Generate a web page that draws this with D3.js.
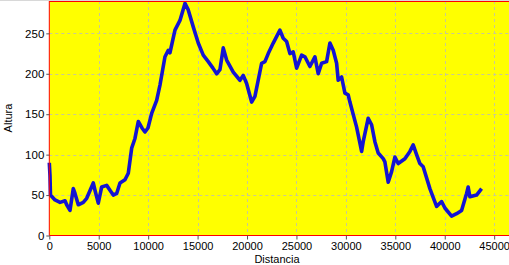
<!DOCTYPE html>
<html><head><meta charset="utf-8">
<script src="https://cdn.jsdelivr.net/npm/d3@7"></script>
<style>html,body{margin:0;padding:0;background:#fff;overflow:hidden}</style>
</head><body>
<script>
const distancia = [0,70,120,576,1082,1588,1760,2093,2427,2599,2932,3438,3782,4449,4621,4955,5299,5804,6138,6472,6815,7149,7655,7989,8332,8666,9000,9374,9677,9981,10355,10860,11194,11700,12033,12205,12711,13216,13722,14056,14562,15067,15573,16079,16553,16928,17261,17595,17939,18606,19284,19617,19961,20467,20801,21478,21812,22146,22651,23329,23662,24006,24340,24674,25017,25523,25857,26362,26868,27202,27546,28051,28385,28719,29062,29224,29568,29902,30236,30408,31085,31591,31752,32258,32602,32935,33269,33775,33947,34281,34625,34958,35292,35970,36475,36809,37153,37486,37820,38497,38801,39175,39681,40015,40693,41198,41704,42209,42371,42543,43220,43726];
const altura = [90,74,50,44,41,43,38,31,58,52,38,41,46,65,56,40,60,62,56,50,52,65,69,77,108,120,141,133,128,133,151,167,186,221,229,226,254,266,287,279,258,238,223,215,207,200,205,232,217,202,192,198,188,165,172,213,215,225,238,254,244,240,225,227,207,223,221,209,221,200,213,215,238,229,213,192,196,176,174,165,134,104,116,145,137,116,102,95,91,66,79,97,89,95,104,112,100,89,85,58,48,36,42,34,24,27,31,52,60,48,50,58];
const xTicks = [0,5000,10000,15000,20000,25000,30000,35000,40000,45000];
const yTicks = [0,50,100,150,200,250];

const W = 509, H = 265;
const L = 49.3, T = 1, B = 235.5, R = 509;
const svg = d3.select("body").append("svg").attr("width", W).attr("height", H)
  .style("font-family", "'Liberation Sans', Arial, sans-serif");

const x = d3.scaleLinear().domain([0, 46500]).range([L, R]);
const y = d3.scaleLinear().domain([0, 290]).range([B, T]);

svg.append("line").attr("x1",0).attr("x2",W).attr("y1",0.5).attr("y2",0.5).attr("stroke","#d8d8d8");
svg.append("rect").attr("x", L).attr("y", T).attr("width", R - L).attr("height", B - T).attr("fill", "#ffff00");

// grid
svg.append("g").selectAll("line").data(xTicks.filter(d => d > 0)).join("line")
  .attr("x1", d => Math.round(x(d)) + 0.5).attr("x2", d => Math.round(x(d)) + 0.5)
  .attr("y1", T).attr("y2", B).attr("stroke", "#c8c896").attr("stroke-dasharray", "3,3");
svg.append("g").selectAll("line").data(yTicks.filter(d => d > 0)).join("line")
  .attr("y1", d => Math.round(y(d)) + 0.5).attr("y2", d => Math.round(y(d)) + 0.5)
  .attr("x1", L).attr("x2", R).attr("stroke", "#c8c896").attr("stroke-dasharray", "3,3");

// line
const pts = distancia.map((d, i) => [d, altura[i]]);
svg.append("path").datum(pts)
  .attr("fill", "none").attr("stroke", "#1414d2").attr("stroke-width", 3.6)
  .attr("stroke-linejoin", "round")
  .attr("d", d3.line().x(d => x(d[0])).y(d => y(d[1])));

// axes borders
svg.append("line").attr("x1", L).attr("x2", L).attr("y1", T).attr("y2", B).attr("stroke", "#ff0000");
svg.append("line").attr("x1", L).attr("x2", R).attr("y1", B).attr("y2", B).attr("stroke", "#ff0000");
svg.append("line").attr("x1", L).attr("x2", R).attr("y1", T + 0.5).attr("y2", T + 0.5).attr("stroke", "#ff0000");

// axes
const xAxis = d3.axisBottom(x).tickValues(xTicks).tickSize(4).tickPadding(3).tickFormat(d3.format("d"));
const gx = svg.append("g").attr("transform", `translate(0,${B})`).call(xAxis);
gx.select(".domain").remove();
gx.selectAll("line").attr("stroke", "#555");
gx.selectAll("text").attr("font-size", 11).attr("fill", "#000").attr("font-family", "'Liberation Sans', Arial, sans-serif");

const yAxis = d3.axisLeft(y).tickValues(yTicks).tickSize(3).tickPadding(2);
const gy = svg.append("g").attr("transform", `translate(${L},0)`).call(yAxis);
gy.select(".domain").remove();
gy.selectAll("line").attr("stroke", "#555");
gy.selectAll("text").attr("font-size", 11.5).attr("fill", "#000").attr("font-family", "'Liberation Sans', Arial, sans-serif");

svg.append("text").attr("x", 277).attr("y", 263).attr("text-anchor", "middle")
  .attr("font-size", 11).text("Distancia");
svg.append("text").attr("transform", "translate(12,118) rotate(-90)").attr("text-anchor", "middle")
  .attr("font-size", 11).text("Altura");
</script>
</body></html>
